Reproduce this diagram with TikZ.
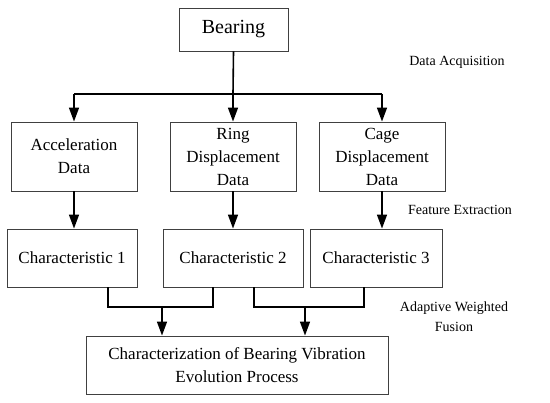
\documentclass[tikz,border=0pt]{standalone}
\usepackage{fontspec}
\setmainfont{Liberation Serif}
\usetikzlibrary{arrows.meta}

\tikzset{
  box/.style={draw=black!75, line width=0.9pt, fill=white, align=center,
    inner sep=2pt, font=\fontsize{17}{23}\selectfont},
  flow/.style={line width=1.6pt, -{Triangle[length=14pt,width=10pt]}},
  link/.style={line width=1.6pt},
  steplabel/.style={align=center, font=\fontsize{14}{20}\selectfont}
}

\begin{document}
\begin{tikzpicture}[x=1pt,y=-1pt]
\useasboundingbox (0,0) rectangle (550,403);
% boxes
\node[box, minimum width=109pt, minimum height=43pt, font=\fontsize{20}{24}\selectfont] (bearing) at (233.5,29.5) {Bearing};
\node[box, minimum width=126pt, minimum height=69pt] (acc) at (74,156.5) {Acceleration\\Data};
\node[box, minimum width=126pt, minimum height=69pt] (ring) at (233,156.5) {Ring\\Displacement\\Data};
\node[box, minimum width=126pt, minimum height=69pt] (cage) at (382,156.5) {Cage\\Displacement\\Data};
\node[box, minimum width=130pt, minimum height=58pt] (char1) at (72,258) {Characteristic 1};
\node[box, minimum width=140pt, minimum height=58pt] (char2) at (233,258) {Characteristic 2};
\node[box, minimum width=132pt, minimum height=58pt] (char3) at (376,258) {Characteristic 3};
\node[box, minimum width=302pt, minimum height=58pt] (result) at (237,365) {Characterization of Bearing Vibration\\Evolution Process};
% stage labels
\node[steplabel] (acq) at (457,62) {Data Acquisition};
\node[steplabel] (feat) at (460,210) {Feature Extraction};
\node[steplabel] (fus) at (454,317) {Adaptive Weighted\\Fusion};
% data acquisition
\coordinate (split) at (233,94);
\draw[link] (bearing.south) -- (split);
\draw[link] (acc.north |- split) -- (cage.north |- split);
\draw[flow] (acc.north |- split) -- (acc.north);
\draw[flow] (split) -- (ring.north);
\draw[flow] (cage.north |- split) -- (cage.north);
% feature extraction
\draw[flow] (acc.south) -- (acc.south |- char1.north);
\draw[flow] (ring.south) -- (ring.south |- char2.north);
\draw[flow] (cage.south) -- (cage.south |- char3.north);
% fusion
\coordinate (join1) at (162,307);
\coordinate (join2) at (305,307);
\draw[link] ([xshift=36pt]char1.south) |- (join1) -| ([xshift=-20pt]char2.south);
\draw[link] ([xshift=21pt]char2.south) |- (join2) -| ([xshift=-12pt]char3.south);
\draw[flow] (join1) -- (join1 |- result.north);
\draw[flow] (join2) -- (join2 |- result.north);
\end{tikzpicture}
\end{document}
